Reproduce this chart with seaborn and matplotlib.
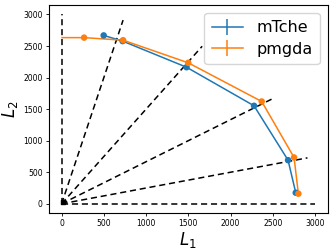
"""Frente de Pareto: mTche vs pmgda con rayos de preferencia"""
import matplotlib
matplotlib.use("Agg")
import matplotlib.pyplot as plt
from matplotlib.lines import Line2D
import numpy as np
import pandas as pd
import seaborn as sns

# preferencias uniformes en el simplex (rayos)
pref_1 = [0.0, 0.2, 0.4, 0.6, 0.8, 1.0]
pref_2 = [1.0, 0.8, 0.6, 0.4, 0.2, 0.0]
ray_len = 3000

# soluciones mTche
mtche_l1 = [498, 722, 1479, 2278, 2681, 2772]
mtche_l2 = [2668, 2578, 2164, 1553, 691, 175]

# soluciones pmgda (la linea arranca en el eje L2)
pmgda_line_l1 = [5, 266, 728, 1499, 2369, 2752, 2803]
pmgda_line_l2 = [2633, 2633, 2592, 2234, 1621, 734, 160]
pmgda_l1 = pmgda_line_l1[1:]
pmgda_l2 = pmgda_line_l2[1:]

blue = "#1f77b4"
orange = "#ff7f0e"

fig = plt.figure(figsize=(3.33, 2.5), dpi=100)
ax = fig.add_axes([0.147, 0.147, 0.837, 0.833])

# rayos de preferencia
for p1, p2 in zip(pref_1, pref_2):
    norm = np.hypot(p1, p2)
    ax.plot([0, ray_len * p1 / norm], [0, ray_len * p2 / norm],
            color="black", linestyle="--", linewidth=1.1, dashes=(4, 2.5))
ax.scatter([15], [35], marker="s", color="black", s=10, zorder=3)

df_m = pd.DataFrame({"L1": mtche_l1, "L2": mtche_l2})
df_p_line = pd.DataFrame({"L1": pmgda_line_l1, "L2": pmgda_line_l2})
df_p = pd.DataFrame({"L1": pmgda_l1, "L2": pmgda_l2})

sns.lineplot(data=df_m, x="L1", y="L2", sort=False, estimator=None,
             color=blue, linewidth=1.1, ax=ax)
sns.scatterplot(data=df_m, x="L1", y="L2", color=blue, s=22,
                edgecolor="none", ax=ax, zorder=3)
sns.lineplot(data=df_p_line, x="L1", y="L2", sort=False, estimator=None,
             color=orange, linewidth=1.1, ax=ax)
sns.scatterplot(data=df_p, x="L1", y="L2", color=orange, s=22,
                edgecolor="none", ax=ax, zorder=3)

handles = [
    Line2D([], [], color=blue, marker="|", markersize=12, markeredgewidth=1.1, linewidth=1.1),
    Line2D([], [], color=orange, marker="|", markersize=12, markeredgewidth=1.1, linewidth=1.1),
]
ax.legend(handles, ["mTche", "pmgda"], loc="upper right", fontsize=11.5,
          handlelength=2.0, borderpad=0.45, labelspacing=0.4)

ax.set_xticks(np.arange(0, 3001, 500))
ax.set_yticks(np.arange(0, 3001, 500))
ax.tick_params(labelsize=5.5, length=2.5, width=0.6, pad=2)
ax.set_xlabel("$L_1$", fontsize=12, labelpad=1)
ax.set_ylabel("$L_2$", fontsize=12, labelpad=2)

fig.savefig("out.png", dpi=100)
plt.close(fig)
